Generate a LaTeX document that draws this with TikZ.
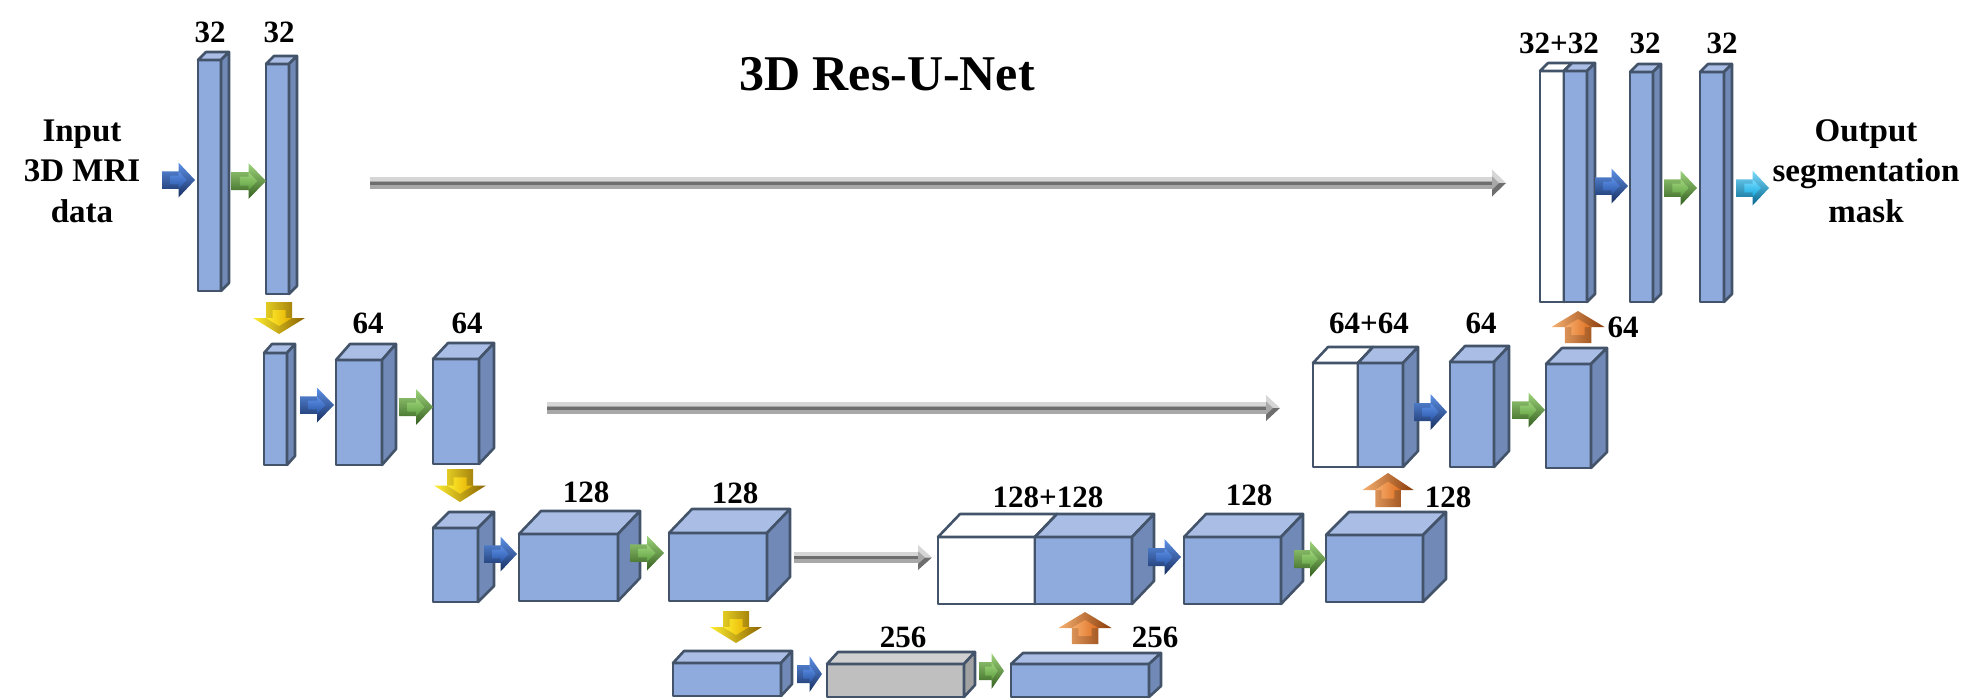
\documentclass[tikz,border=0pt]{standalone}
\usepackage{fontspec}
\setmainfont{Liberation Serif}
\definecolor{edgec}{HTML}{42536A}
\definecolor{bfront}{HTML}{8FAADC}
\definecolor{btop}{HTML}{A9BDE5}
\definecolor{bside}{HTML}{7189B7}
\definecolor{gfront}{HTML}{BFBFBF}
\definecolor{gtop}{HTML}{D0D0D0}
\definecolor{gside}{HTML}{A2A2A2}
\definecolor{wfront}{HTML}{FFFFFF}
\definecolor{wtop}{HTML}{FFFFFF}
\definecolor{wside}{HTML}{FFFFFF}
\definecolor{bluel}{HTML}{5E92E8}
\definecolor{bluem}{HTML}{2A55A6}
\definecolor{blued}{HTML}{172E60}
\definecolor{greenl}{HTML}{9FD57C}
\definecolor{greenm}{HTML}{5E9E40}
\definecolor{greend}{HTML}{335E1E}
\definecolor{cyanl}{HTML}{7ADCFF}
\definecolor{cyanm}{HTML}{10A8DE}
\definecolor{cyand}{HTML}{06668E}
\definecolor{yell}{HTML}{FFEE30}
\definecolor{yelm}{HTML}{E2AC00}
\definecolor{yeld}{HTML}{8A6200}
\definecolor{orl}{HTML}{F7B070}
\definecolor{orm}{HTML}{DD6C1E}
\definecolor{ord}{HTML}{8A3C0A}
\definecolor{skl}{HTML}{D6D6D6}
\definecolor{skm}{HTML}{A8A8A8}
\definecolor{skd}{HTML}{6E6E6E}
% cuboid: name, x1, y1, x2, y2, dx, dy, colour prefix
\newcommand\cub[8]{%
  \filldraw[edge, fill=#8front] (#2,#3) rectangle (#4,#5);
  \filldraw[edge, fill=#8top] (#2,#3) -- (#2+#6,#3-#7) -- (#4+#6,#3-#7) -- (#4,#3) -- cycle;
  \filldraw[edge, fill=#8side] (#4,#3) -- (#4+#6,#3-#7) -- (#4+#6,#5-#7) -- (#4,#5) -- cycle;
  \coordinate (#1) at ({(#2+#4)/2},{(#3+#5)/2});}
% horizontal block arrow path: x1, x2, yc, H
\newcommand\hpath[4]{(#1,#3-#4/4) -- ({(#1+#2)/2},#3-#4/4) -- ({(#1+#2)/2},#3-#4/2) -- (#2,#3) -- ({(#1+#2)/2},#3+#4/2) -- ({(#1+#2)/2},#3+#4/4) -- (#1,#3+#4/4) -- cycle}
% horizontal arrow: name, x1, x2, yc, H, colour prefix
\newcommand\harrow[6]{%
  \coordinate (#1) at ({(#2+#3)/2},#4);
  \path[shade, top color=#6l, middle color=#6m, bottom color=#6d] \hpath{#2}{#3}{#4}{#5};
  \path[shade, top color=#6l, bottom color=#6m, scale around={0.5:(#1)}] \hpath{#2}{#3}{#4}{#5};}
% vertical block arrow path: xc, ytail, ytip, W
\newcommand\vpath[4]{(#1-#4/4,#2) -- (#1-#4/4,{(#2+#3)/2}) -- (#1-#4/2,{(#2+#3)/2}) -- (#1,#3) -- (#1+#4/2,{(#2+#3)/2}) -- (#1+#4/4,{(#2+#3)/2}) -- (#1+#4/4,#2) -- cycle}
\newcommand\varrow[6]{%
  \coordinate (#1) at (#2,{(#3+#4)/2});
  \path[shade, left color=#6l, middle color=#6m, right color=#6d] \vpath{#2}{#3}{#4}{#5};
  \path[shade, left color=#6l, right color=#6m, scale around={0.5:(#1)}] \vpath{#2}{#3}{#4}{#5};}
% skip arrow: name, x1, x2, yc, shaft h, head H, head L
\newcommand\skiparrow[7]{%
  \coordinate (#1) at ({(#2+#3)/2},#4);
  \fill[skm] (#2,#4-#5/2) rectangle (#3-#7,#4+#5/2);
  \fill[skl] (#2,#4-#5/2) rectangle (#3-#7,#4-#5/6);
  \fill[skd] (#2,#4-#5/8) rectangle (#3-#7,#4+#5/6);
  \fill[skl] (#3-#7,#4-#6/2) -- (#3,#4) -- (#3-#7,#4) -- cycle;
  \fill[skd] (#3-#7,#4) -- (#3,#4) -- (#3-#7,#4+#6/2) -- cycle;
  \fill[skm] (#3-#7,#4-#6/4) -- (#3-#7/2,#4) -- (#3-#7,#4+#6/4) -- cycle;}
\begin{document}
\begin{tikzpicture}[x=1pt,y=-1pt,
  edge/.style={draw=edgec, line width=2.6pt, line join=round},
  lab/.style={font=\fontsize{31}{37}\selectfont\bfseries, inner sep=0pt},
  side/.style={font=\fontsize{33}{40.5}\selectfont\bfseries, inner sep=0pt, align=center}]
\useasboundingbox (0,0) rectangle (1987,699);

% title and side texts
\node[font=\fontsize{50}{58}\selectfont\bfseries, inner sep=0pt] (title) at (887,74) {3D Res-U-Net};
\node[side] (input) at (82,171) {Input\\3D MRI\\data};
\node[side] (output) at (1866,171) {Output\\segmentation\\mask};

% skip connections
\skiparrow{s1}{370}{1506}{183}{12}{27}{14}
\skiparrow{s2}{547}{1280}{408}{12}{26}{14}
\skiparrow{s3}{794}{932}{557.5}{11}{25}{14}

% row 1 (encoder)
\cub{c1}{198}{60}{221}{291}{8}{8}{b}
\cub{c2}{266}{64}{289}{294}{8}{8}{b}
% row 1 (decoder)
\cub{u1w}{1540}{71}{1564}{302}{8}{8}{w}
\cub{u1}{1564}{71}{1587}{302}{8}{8}{b}
\cub{u2}{1630}{72}{1653}{302}{8}{8}{b}
\cub{u3}{1700}{72}{1724}{302}{8}{8}{b}

% row 2
\cub{p1}{264}{353}{287}{465}{8}{9}{b}
\cub{c3}{336}{360}{382}{465}{14}{16}{b}
\cub{c4}{433}{359}{479}{464}{15}{16}{b}
\cub{u4w}{1313}{363}{1358}{467}{15}{16}{w}
\cub{u4}{1358}{363}{1403}{467}{15}{16}{b}
\cub{u5}{1450}{362}{1494}{467}{15}{16}{b}
\cub{u6}{1546}{364}{1591}{468}{16}{16}{b}

% row 3
\cub{p2}{433}{528}{478}{602}{16}{16}{b}
\cub{c5}{519}{534}{618}{601}{22}{23}{b}
\cub{c6}{669}{533}{767}{601}{23}{24}{b}
\cub{u7w}{938}{537}{1035}{604}{22}{23}{w}
\cub{u7}{1035}{537}{1132}{604}{22}{23}{b}
\cub{u8}{1184}{537}{1281}{604}{22}{23}{b}
\cub{u9}{1326}{535}{1423}{602}{23}{23}{b}

% row 4
\cub{p3}{673}{663}{781}{696}{11}{12}{b}
\cub{bn}{827}{664}{964}{697}{11}{12}{g}
\cub{u10}{1011}{664}{1149}{697}{12}{11}{b}

% horizontal arrows
\harrow{a1}{162}{195}{180}{35}{blue}
\harrow{a2}{231}{266}{181}{36}{green}
\harrow{a3}{1595}{1628}{186}{35}{blue}
\harrow{a4}{1664}{1697}{188}{35}{green}
\harrow{a5}{1736}{1769}{188}{35}{cyan}
\harrow{a6}{300}{334}{405}{35}{blue}
\harrow{a7}{399}{433}{407}{36}{green}
\harrow{a8}{1414}{1447}{412}{36}{blue}
\harrow{a9}{1512}{1545}{410}{35}{green}
\harrow{a10}{484}{517}{554}{35}{blue}
\harrow{a11}{630}{664}{553}{35}{green}
\harrow{a12}{1148}{1181}{557}{36}{blue}
\harrow{a13}{1294}{1326}{559}{36}{green}
\harrow{a14}{797}{822}{674}{36}{blue}
\harrow{a15}{979}{1004}{671}{36}{green}

% pooling (down) and up-sampling (up) arrows
\varrow{d1}{279}{302}{334}{52}{yel}
\varrow{d2}{460}{469}{502}{52}{yel}
\varrow{d3}{736}{611}{643}{52}{yel}
\varrow{up1}{1085}{644}{612}{53}{or}
\varrow{up2}{1388}{507}{473}{51}{or}
\varrow{up3}{1578}{343}{311}{53}{or}

% labels
\node[lab] (l1) at (210,32) {32};
\node[lab] (l2) at (279,32) {32};
\node[lab] (l3) at (1559,43) {32+32};
\node[lab] (l4) at (1645,43) {32};
\node[lab] (l5) at (1722,43) {32};
\node[lab] (l6) at (368,323) {64};
\node[lab] (l7) at (467,323) {64};
\node[lab] (l8) at (1369,323) {64+64};
\node[lab] (l9) at (1481,323) {64};
\node[lab] (l10) at (1623,327) {64};
\node[lab] (l11) at (586,492) {128};
\node[lab] (l12) at (735,493) {128};
\node[lab] (l13) at (1048,497) {128+128};
\node[lab] (l14) at (1249,495) {128};
\node[lab] (l15) at (1448,497) {128};
\node[lab] (l16) at (903,637) {256};
\node[lab] (l17) at (1155,637) {256};
\end{tikzpicture}
\end{document}
